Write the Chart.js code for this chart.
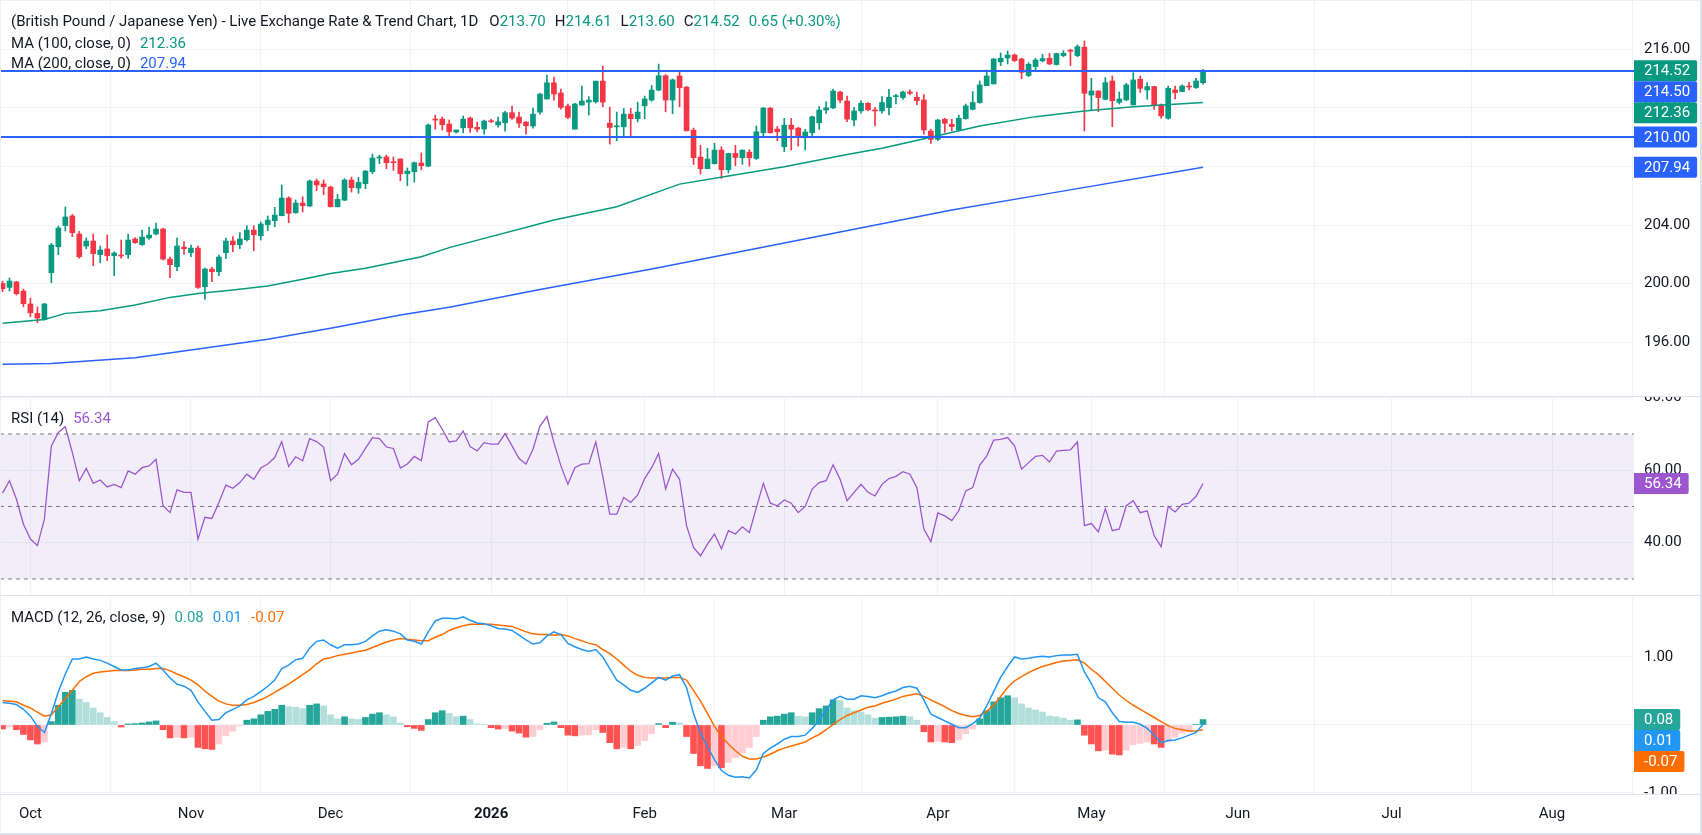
<!DOCTYPE html>
<html>
<head>
<meta charset="utf-8">
<script src="https://cdn.jsdelivr.net/npm/chart.js@4.4.1/dist/chart.umd.min.js"></script>
<style>
  body { margin: 0; background: #fff; }
  #wrap { position: relative; width: 1702px; height: 835px; overflow: hidden; font-family: Roboto, "Noto Sans", sans-serif; }
  canvas { position: absolute; left: 0; }
  .sep { position: absolute; left: 0; width: 1700px; height: 0; border-top: 1px solid #e0e3eb; }
  .frame { position: absolute; left: 0; top: 0; width: 1702px; height: 835px; box-sizing: border-box;
           border: 1px solid #eef0f4; border-right: 2px solid #e0e3eb; border-bottom: 2px solid #e0e3eb; pointer-events: none; }
  .lbl { position: absolute; left: 11px; font-size: 15px; line-height: 20px; color: #131722; white-space: nowrap; }
  .sp { margin-left: 9px; }
  .g { color: #089981; }
  .b { color: #2962ff; }
  .p { color: #9c57cf; }
</style>
</head>
<body>
<div id="wrap">
  <canvas id="price" width="1700" height="397" style="top:0"></canvas>
  <canvas id="rsi" width="1700" height="199" style="top:397px"></canvas>
  <canvas id="macd" width="1700" height="237" style="top:596px"></canvas>
  <div class="sep" style="top:396px"></div>
  <div class="sep" style="top:595px"></div>
  <div class="sep" style="top:794px"></div>
  <div class="frame"></div>

  <div class="lbl" style="top:11px">(British Pound / Japanese Yen) - Live Exchange Rate &amp; Trend Chart, 1D<span class="sp" style="margin-left:11px">O</span><span class="g">213.70</span><span class="sp">H</span><span class="g">214.61</span><span class="sp">L</span><span class="g">213.60</span><span class="sp">C</span><span class="g">214.52</span><span class="sp g">0.65 (+0.30%)</span></div>
  <div class="lbl" style="top:33px">MA (100, close, 0)<span class="sp g">212.36</span></div>
  <div class="lbl" style="top:53px">MA (200, close, 0)<span class="sp b">207.94</span></div>
  <div class="lbl" style="top:408px">RSI (14)<span class="sp p">56.34</span></div>
  <div class="lbl" style="top:607px">MACD (12, 26, close, 9)<span class="sp" style="color:#26a69a">0.08</span><span class="sp" style="color:#2196f3">0.01</span><span class="sp" style="color:#ff6d00">-0.07</span></div>
</div>

<script>
// ---- data (daily bars, weekdays from 25 Sep 2025) ----
const startDate = '2025-09-25';
const tickLabels = ['Oct', 'Nov', 'Dec', '2026', 'Feb', 'Mar', 'Apr', 'May', 'Jun', 'Jul', 'Aug'];
const tickIndex = [4, 27, 47, 70, 92, 112, 134, 156, 177, 199, 222];

const open = [
  200.02,199.75,200.12,199.50,198.62,197.98,197.57,200.75,202.52,203.96,
  204.62,203.39,202.57,202.91,201.98,202.37,201.91,201.96,201.98,203.05,
  202.66,203.12,203.39,203.73,201.68,201.16,202.50,202.12,202.43,199.80,
  201.00,200.82,202.12,202.91,202.66,203.00,203.66,203.27,204.03,204.30,
  204.64,205.84,204.84,205.50,205.30,207.00,206.80,206.59,205.25,205.70,
  207.07,206.52,206.82,207.64,208.57,208.64,208.30,208.50,207.50,207.64,
  208.23,208.02,211.22,211.22,210.88,210.34,210.63,211.29,210.66,210.54,
  211.11,210.82,210.97,211.66,211.36,211.02,210.75,211.70,212.59,213.70,
  213.00,212.11,210.54,212.18,212.38,212.40,213.81,210.95,210.70,210.70,
  211.56,211.25,212.13,212.52,213.20,214.18,212.52,214.16,213.40,210.47,
  208.63,207.84,208.18,209.11,207.77,208.88,208.59,208.97,208.54,210.29,
  211.97,210.54,209.34,210.81,210.61,209.97,210.29,210.97,211.84,211.99,
  213.06,212.45,211.16,211.78,212.30,211.85,211.78,212.00,212.75,212.69,
  213.07,212.71,212.53,210.41,209.84,211.21,210.87,210.48,211.25,211.89,
  212.35,213.50,213.62,215.12,215.39,215.59,215.32,214.19,214.80,215.19,
  215.37,214.94,215.55,215.89,215.55,216.12,212.86,213.14,212.57,213.82,
  212.37,212.53,212.19,213.94,213.21,213.44,212.19,211.28,213.21,213.10,
  213.48,213.37,213.70];
const high = [
  200.18,200.39,200.16,199.64,199.02,198.41,198.66,202.75,203.93,205.23,
  204.73,203.57,203.12,203.39,202.57,203.32,202.18,202.98,203.39,203.14,
  203.66,203.87,204.14,203.77,201.82,203.12,202.87,202.64,202.57,201.07,
  201.12,201.96,203.12,203.21,203.48,203.96,203.96,204.21,204.62,205.21,
  206.73,205.93,205.71,205.93,207.07,207.14,207.07,206.66,206.09,207.16,
  207.27,207.25,207.72,208.84,208.77,208.77,208.64,208.52,207.89,208.30,
  208.91,210.89,211.50,211.36,211.16,210.48,211.43,211.36,211.02,211.16,
  211.20,211.36,211.75,212.11,211.70,211.06,211.97,212.97,214.22,214.09,
  213.27,212.25,212.29,213.47,212.75,213.81,214.84,212.04,211.70,211.95,
  211.95,212.38,212.79,213.52,214.97,214.25,213.95,214.43,213.45,210.61,
  209.43,209.22,209.57,209.34,208.90,209.43,209.13,209.15,210.75,212.02,
  212.02,210.72,211.27,211.27,210.65,210.52,211.43,212.07,212.40,213.27,
  213.13,212.79,212.03,212.46,212.34,212.03,212.75,213.25,212.91,213.14,
  213.21,213.07,212.89,210.53,211.21,211.28,211.21,211.50,212.25,213.10,
  213.82,214.57,215.35,215.73,215.87,215.66,215.37,215.07,215.37,215.64,
  215.71,215.71,215.89,215.98,216.28,216.55,214.00,213.16,214.05,214.16,
  213.07,213.66,214.39,214.16,213.71,213.46,212.25,213.48,213.48,213.55,
  213.73,214.00,214.61];
const low = [
  199.46,199.50,199.23,198.43,197.75,197.34,197.52,200.07,201.98,203.59,
  203.21,201.73,202.39,201.23,201.43,201.57,200.55,201.73,201.73,202.75,
  202.62,203.02,203.32,201.62,200.41,200.89,202.02,201.84,199.68,198.93,
  200.14,200.55,201.71,202.18,202.39,202.91,202.25,202.98,203.62,203.89,
  204.62,204.16,204.80,204.89,205.25,206.34,206.07,205.23,205.23,205.66,
  206.25,206.16,206.48,207.50,208.18,207.84,207.73,207.02,206.68,206.93,
  207.77,207.98,210.54,210.48,209.97,210.27,210.29,210.31,210.34,210.20,
  210.99,210.68,210.40,211.20,210.66,210.20,210.61,211.56,212.59,212.52,
  211.90,211.25,210.54,212.18,211.50,212.31,212.06,209.52,209.75,210.00,
  209.97,211.04,211.25,212.43,213.15,211.72,211.59,212.07,210.40,208.13,
  207.48,207.84,208.16,207.18,207.56,208.04,208.13,208.02,208.47,210.02,
  210.27,209.75,209.00,209.11,209.38,209.11,210.07,210.52,211.61,211.93,
  212.34,211.04,210.75,211.62,211.80,210.75,211.62,211.50,212.25,212.57,
  212.89,212.21,210.19,209.57,209.75,210.32,210.41,210.41,211.21,211.85,
  212.30,213.50,213.62,214.87,214.98,215.14,213.98,214.12,214.57,215.12,
  214.94,214.91,215.48,214.87,215.48,210.41,211.85,211.73,212.53,210.71,
  212.25,212.48,212.19,213.05,212.57,211.89,211.28,211.21,212.60,213.07,
  213.21,213.32,213.60];
const close = [
  199.66,200.18,199.32,198.64,198.02,197.66,198.62,202.64,203.80,204.55,
  203.48,201.84,202.91,202.05,202.30,201.91,202.09,201.89,202.98,202.80,
  203.18,203.32,203.73,201.68,201.30,202.57,202.39,202.43,199.75,201.00,
  200.82,201.82,202.91,202.66,203.05,203.66,203.34,204.07,204.34,204.68,
  205.84,204.80,205.50,205.32,207.00,206.73,206.61,205.25,205.75,207.07,
  206.55,206.91,207.68,208.57,208.64,208.25,208.25,207.50,207.68,208.25,
  208.05,210.82,211.16,210.84,210.36,210.48,211.22,210.63,210.54,211.09,
  211.04,211.04,211.66,211.29,210.95,210.77,211.56,212.93,213.70,212.93,
  212.02,211.34,212.25,212.45,212.52,213.81,212.38,210.65,210.75,211.56,
  211.25,211.70,212.59,213.20,214.18,212.52,213.90,213.36,210.43,208.59,
  207.84,208.50,209.11,207.77,208.88,208.61,209.11,208.59,210.36,211.97,
  210.29,210.36,210.81,210.54,209.97,210.34,211.38,211.84,211.99,213.13,
  212.52,211.22,211.78,212.30,211.85,211.78,212.35,212.71,212.80,213.07,
  212.98,212.48,210.48,209.84,211.16,210.94,210.71,211.28,212.12,212.35,
  213.55,214.16,215.32,215.37,215.59,215.21,214.41,214.96,215.25,215.35,
  214.98,215.69,215.71,215.85,216.16,212.98,213.14,212.69,213.71,212.48,
  212.59,213.55,213.89,213.32,213.44,212.19,211.44,213.32,213.03,213.48,
  213.41,213.82,214.52];

// moving averages, read at a few bars
const ma100At = [0,6,9,14,19,24,28,33,38,43,47,52,60,64,79,88,97,104,112,121,126,133,140,148,155,162,172];
const ma100 = [197.30,197.57,197.98,198.16,198.55,199.07,199.34,199.57,199.84,200.30,200.70,201.05,201.84,202.46,
               204.34,205.25,206.79,207.34,207.97,208.81,209.23,209.98,210.75,211.39,211.78,212.07,212.36];
const ma200At = [0,7,19,28,38,47,57,64,77,93,108,124,136,150,172];
const ma200 = [194.52,194.57,194.96,195.55,196.21,196.96,197.87,198.39,199.60,201.00,202.40,203.90,205.03,206.16,207.94];

const levels = [214.50, 210.00];

const rsi = [
  53.7,57.1,52.0,45.1,41.0,39.2,46.5,66.7,70.4,72.0,
  64.9,57.1,60.5,56.4,57.3,55.4,56.1,55.2,59.8,58.9,
  60.7,61.2,63.0,50.2,48.3,54.6,53.9,53.9,41.0,47.0,
  46.7,51.1,55.9,55.0,56.6,58.9,57.5,60.6,61.7,63.5,
  67.9,61.0,63.7,62.6,68.7,67.9,66.4,57.1,58.9,64.6,
  61.5,63.0,66.0,69.0,68.7,66.4,66.0,60.6,61.7,63.8,
  62.6,73.3,74.5,71.3,67.8,68.1,70.8,66.5,65.3,67.6,
  67.2,67.2,70.1,66.7,63.2,61.7,65.8,72.2,74.8,67.6,
  61.2,56.1,60.7,61.7,61.8,67.8,58.4,47.9,47.9,52.5,
  51.1,53.2,57.7,60.7,64.6,54.8,60.3,57.5,44.7,38.7,
  36.4,39.6,42.4,38.3,43.3,42.4,44.4,42.8,49.7,56.4,
  50.9,50.2,51.8,50.9,48.3,50.0,54.8,56.6,57.1,61.5,
  57.5,51.6,53.9,56.1,53.9,52.9,56.1,57.7,58.3,59.6,
  58.9,55.2,43.8,40.3,48.2,47.4,46.1,48.8,54.3,55.2,
  61.4,63.9,68.3,68.5,69.0,66.7,60.3,62.1,63.8,64.1,
  62.3,65.3,65.5,65.6,67.8,44.7,45.3,43.0,49.4,43.3,
  43.8,50.2,51.6,48.3,48.8,41.9,38.9,50.0,48.5,50.6,
  50.9,52.8,56.34];

const macd = [
  0.33,0.32,0.30,0.23,0.13,-0.02,-0.11,0.17,0.49,0.75,
  0.97,0.97,1.00,0.97,0.95,0.91,0.86,0.81,0.81,0.83,
  0.84,0.86,0.91,0.81,0.69,0.60,0.57,0.51,0.34,0.20,
  0.07,0.08,0.18,0.23,0.28,0.37,0.42,0.49,0.57,0.66,
  0.83,0.88,0.96,0.98,1.13,1.23,1.25,1.18,1.13,1.18,
  1.18,1.19,1.23,1.31,1.38,1.40,1.38,1.34,1.25,1.23,
  1.19,1.37,1.53,1.57,1.57,1.56,1.59,1.54,1.50,1.49,
  1.46,1.42,1.41,1.39,1.32,1.25,1.19,1.21,1.31,1.37,
  1.33,1.20,1.15,1.11,1.08,1.11,1.00,0.83,0.66,0.59,
  0.51,0.48,0.54,0.62,0.70,0.66,0.72,0.74,0.55,0.17,
  -0.12,-0.32,-0.51,-0.67,-0.74,-0.77,-0.76,-0.78,-0.66,-0.42,
  -0.34,-0.28,-0.21,-0.17,-0.17,-0.15,-0.05,0.07,0.22,0.37,
  0.42,0.38,0.38,0.43,0.42,0.40,0.43,0.47,0.50,0.55,
  0.57,0.54,0.37,0.16,0.11,0.06,0.01,-0.04,-0.04,0.02,
  0.10,0.28,0.49,0.70,0.86,1.00,0.97,0.98,1.00,1.01,
  1.00,1.02,1.03,1.03,1.04,0.78,0.61,0.40,0.34,0.18,
  0.05,0.04,0.04,0.01,-0.05,-0.15,-0.26,-0.23,-0.22,-0.19,
  -0.15,-0.11,0.01];
const signal = [
  0.36,0.35,0.34,0.29,0.25,0.19,0.13,0.15,0.27,0.39,
  0.51,0.64,0.71,0.76,0.78,0.79,0.80,0.80,0.80,0.81,
  0.82,0.82,0.83,0.83,0.80,0.75,0.71,0.66,0.59,0.50,
  0.42,0.35,0.31,0.29,0.29,0.30,0.33,0.37,0.42,0.48,
  0.54,0.60,0.67,0.74,0.81,0.90,0.97,0.99,1.02,1.04,
  1.06,1.08,1.10,1.14,1.18,1.22,1.25,1.27,1.26,1.25,
  1.24,1.24,1.29,1.33,1.39,1.43,1.46,1.48,1.48,1.48,
  1.48,1.47,1.46,1.45,1.41,1.37,1.34,1.33,1.33,1.32,
  1.33,1.31,1.27,1.24,1.20,1.18,1.11,1.05,0.97,0.88,
  0.79,0.73,0.70,0.69,0.69,0.69,0.70,0.70,0.66,0.51,
  0.35,0.17,-0.02,-0.17,-0.28,-0.38,-0.46,-0.50,-0.50,-0.47,
  -0.43,-0.38,-0.34,-0.31,-0.28,-0.25,-0.19,-0.14,-0.07,0.01,
  0.08,0.14,0.18,0.22,0.26,0.28,0.32,0.35,0.38,0.42,
  0.44,0.46,0.42,0.37,0.32,0.27,0.21,0.17,0.14,0.12,
  0.14,0.20,0.29,0.42,0.55,0.65,0.71,0.77,0.82,0.86,
  0.89,0.92,0.94,0.95,0.96,0.91,0.82,0.74,0.64,0.54,
  0.44,0.36,0.29,0.23,0.17,0.11,0.05,-0.01,-0.05,-0.07,
  -0.09,-0.09,-0.07];
const hist = [
  -0.06,-0.03,-0.07,-0.14,-0.22,-0.28,-0.25,0.05,0.29,0.48,
  0.51,0.38,0.33,0.25,0.18,0.11,0.05,-0.03,0.015,0.02,
  0.03,0.045,0.06,-0.07,-0.19,-0.18,-0.19,-0.18,-0.33,-0.35,
  -0.36,-0.28,-0.16,-0.09,-0.015,0.07,0.09,0.15,0.20,0.23,
  0.29,0.27,0.26,0.24,0.29,0.31,0.28,0.15,0.09,0.12,
  0.09,0.08,0.11,0.16,0.18,0.15,0.12,0.03,-0.025,-0.05,
  -0.08,0.08,0.18,0.21,0.17,0.12,0.13,0.08,0.015,0.01,
  -0.04,-0.06,-0.055,-0.09,-0.12,-0.18,-0.17,-0.07,0.025,0.045,
  -0.04,-0.15,-0.16,-0.15,-0.145,-0.07,-0.11,-0.26,-0.35,-0.33,
  -0.35,-0.30,-0.23,-0.13,0.02,-0.04,0.04,0.03,-0.17,-0.42,
  -0.60,-0.64,-0.60,-0.63,-0.55,-0.48,-0.41,-0.33,-0.17,0.07,
  0.12,0.13,0.16,0.18,0.13,0.12,0.18,0.24,0.28,0.37,
  0.36,0.25,0.21,0.19,0.15,0.10,0.11,0.115,0.12,0.13,
  0.12,0.07,-0.10,-0.25,-0.24,-0.25,-0.26,-0.22,-0.13,-0.06,
  0.09,0.21,0.34,0.40,0.43,0.40,0.31,0.25,0.22,0.19,
  0.13,0.12,0.10,0.07,0.075,-0.15,-0.28,-0.38,-0.37,-0.43,
  -0.44,-0.37,-0.29,-0.27,-0.25,-0.28,-0.33,-0.25,-0.18,-0.12,
  -0.10,0.01,0.08];

// ---- helpers ----
const dates = [];
for (let d = new Date(startDate + 'T00:00:00Z'); dates.length < open.length; d.setUTCDate(d.getUTCDate() + 1)) {
  const wd = d.getUTCDay();
  if (wd !== 0 && wd !== 6) dates.push(d.toISOString().slice(0, 10));
}
const idx = dates.map((_, i) => i);

const GREEN = '#089981', RED = '#f23645', BLUE = '#2962ff', GRID = '#f0f3fa', TXT = '#131722';
const FONT = 'Roboto, "Noto Sans", sans-serif';
const X_MIN = -0.36, X_MAX = 233.74;

Chart.defaults.font.family = FONT;
Chart.defaults.font.size = 15;
Chart.defaults.color = TXT;

const tagPlugin = {
  id: 'tags',
  afterDraw(chart, args, opts) {
    if (!opts.items) return;
    const { ctx, chartArea } = chart;
    const y = chart.scales.y;
    const h = 21;
    const items = opts.items.map(t => ({ ...t, py: y.getPixelForValue(t.value) })).sort((a, b) => a.py - b.py);
    let last = -1e9;
    ctx.save();
    ctx.font = '15px ' + FONT;
    ctx.textBaseline = 'middle';
    items.forEach(t => {
      const py = Math.max(t.py, last + h);
      last = py;
      const txt = t.value.toFixed(2);
      const w = ctx.measureText(txt).width + 17;
      ctx.fillStyle = t.color;
      ctx.beginPath();
      ctx.roundRect(chartArea.right, py - h / 2, w, h, [0, 2, 2, 0]);
      ctx.fill();
      ctx.fillStyle = '#fff';
      ctx.fillText(txt, chartArea.right + 10, py + 1);
    });
    ctx.restore();
  }
};

const cutLabel = {
  id: 'cutLabel',
  afterDraw(chart, args, opts) {
    if (opts.value === undefined) return;
    const { ctx, chartArea: ca } = chart;
    const y = chart.scales.y.getPixelForValue(opts.value);
    ctx.save();
    ctx.beginPath();
    ctx.rect(ca.right, ca.top, 80, ca.bottom - ca.top);
    ctx.clip();
    ctx.fillStyle = TXT;
    ctx.font = '15px ' + FONT;
    ctx.textBaseline = 'middle';
    ctx.fillText(opts.value.toFixed(2), ca.right + 10, y);
    ctx.restore();
  }
};
Chart.register(tagPlugin, cutLabel);

function xAxis(labels) {
  return {
    type: 'linear', min: X_MIN, max: X_MAX, offset: false,
    afterBuildTicks: s => { s.ticks = tickIndex.map(v => ({ value: v })); },
    afterFit: s => { s.height = labels ? 38 : 0; s.paddingLeft = 0; s.paddingRight = 0; },
    grid: { color: GRID, drawTicks: false },
    border: { display: false },
    ticks: {
      display: labels, autoSkip: false, maxRotation: 0, padding: 10, color: TXT,
      font: c => ({ size: 15, weight: c.index === 3 ? 'bold' : 'normal' }),
      callback: (v, k) => tickLabels[k]
    }
  };
}

function yAxis(min, max, ticks, fmt) {
  return {
    position: 'right', min, max,
    afterBuildTicks: s => { s.ticks = ticks.map(v => ({ value: v })); },
    afterFit: s => { s.width = 66; s.paddingTop = 0; s.paddingBottom = 0; },
    grid: { color: GRID, drawTicks: false },
    border: { display: false },
    ticks: { padding: 10, color: TXT, callback: fmt || (v => v.toFixed(2)) }
  };
}

const hLine = (v, extra) => Object.assign({
  type: 'line', data: [{ x: X_MIN, y: v }, { x: X_MAX, y: v }],
  pointRadius: 0, borderWidth: 1, fill: false
}, extra);

const base = { responsive: false, animation: false, events: [],
  layout: { padding: 0, autoPadding: false } };

// ---- price pane ----
const candleColor = idx.map(i => close[i] >= open[i] ? GREEN : RED);
new Chart(document.getElementById('price'), {
  type: 'bar',
  data: {
    datasets: [
      ...levels.map(v => hLine(v, { borderColor: BLUE, borderWidth: 2, order: 0 })),
      { type: 'line', data: ma100At.map((x, k) => ({ x, y: ma100[k] })), borderColor: GREEN, borderWidth: 1.5, pointRadius: 0, order: 1 },
      { type: 'line', data: ma200At.map((x, k) => ({ x, y: ma200[k] })), borderColor: BLUE, borderWidth: 1.5, pointRadius: 0, order: 1 },
      { data: idx.map(i => ({ x: i, y: [open[i], close[i]] })), backgroundColor: candleColor, barThickness: 5, minBarLength: 1, grouped: false, order: 2 },
      { data: idx.map(i => ({ x: i, y: [low[i], high[i]] })), backgroundColor: candleColor, barThickness: 1, grouped: false, order: 3 }
    ]
  },
  options: {
    ...base,
    plugins: {
      legend: { display: false }, tooltip: { enabled: false },
      tags: { items: [
        { value: close[close.length - 1], color: GREEN },
        { value: levels[0], color: BLUE },
        { value: ma100[ma100.length - 1], color: GREEN },
        { value: levels[1], color: BLUE },
        { value: ma200[ma200.length - 1], color: BLUE }
      ] }
    },
    scales: { x: xAxis(false), y: yAxis(192.28, 219.34, [196, 200, 204, 208, 212, 216]) }
  }
});

// ---- RSI pane ----
new Chart(document.getElementById('rsi'), {
  type: 'line',
  data: {
    datasets: [
      { type: 'line', data: idx.map(i => ({ x: i, y: rsi[i] })), borderColor: '#9c57cf', borderWidth: 1.3, pointRadius: 0, order: 0 },
      hLine(70, { borderColor: '#787b86', borderDash: [4, 4], fill: { value: 30 }, backgroundColor: 'rgba(126,87,194,0.1)', order: 1 }),
      hLine(50, { borderColor: '#787b86', borderDash: [4, 4], order: 1 }),
      hLine(30, { borderColor: '#787b86', borderDash: [4, 4], order: 1 })
    ]
  },
  options: {
    ...base,
    plugins: { legend: { display: false }, tooltip: { enabled: false },
      tags: { items: [{ value: rsi[rsi.length - 1], color: '#9c57cf' }] } },
    scales: { x: xAxis(false), y: yAxis(25.3, 80.2, [40, 60, 80]) }
  }
});

// ---- MACD pane ----
const histColor = hist.map((v, i) => {
  const prev = i > 0 ? hist[i - 1] : 0;
  if (v >= 0) return v >= prev ? '#26a69a' : '#b2dfdb';
  return v <= prev ? '#ff5252' : '#ffcdd2';
});
new Chart(document.getElementById('macd'), {
  type: 'bar',
  data: {
    datasets: [
      { type: 'line', data: idx.map(i => ({ x: i, y: macd[i] })), borderColor: '#2196f3', borderWidth: 1.5, pointRadius: 0, order: 0 },
      { type: 'line', data: idx.map(i => ({ x: i, y: signal[i] })), borderColor: '#ff6d00', borderWidth: 1.5, pointRadius: 0, order: 0 },
      { data: idx.map(i => ({ x: i, y: hist[i] })), backgroundColor: histColor, barThickness: 6, grouped: false, order: 1 }
    ]
  },
  options: {
    ...base,
    plugins: { legend: { display: false }, tooltip: { enabled: false },
      cutLabel: { value: -1 },
      tags: { items: [
        { value: hist[hist.length - 1], color: '#26a69a' },
        { value: macd[macd.length - 1], color: '#2196f3' },
        { value: signal[signal.length - 1], color: '#ff6d00' }
      ] } },
    scales: { x: xAxis(true), y: yAxis(-1.03, 1.897, [-1, 0, 1], v => v === -1 ? '' : v.toFixed(2)) }
  }
});
</script>
</body>
</html>
